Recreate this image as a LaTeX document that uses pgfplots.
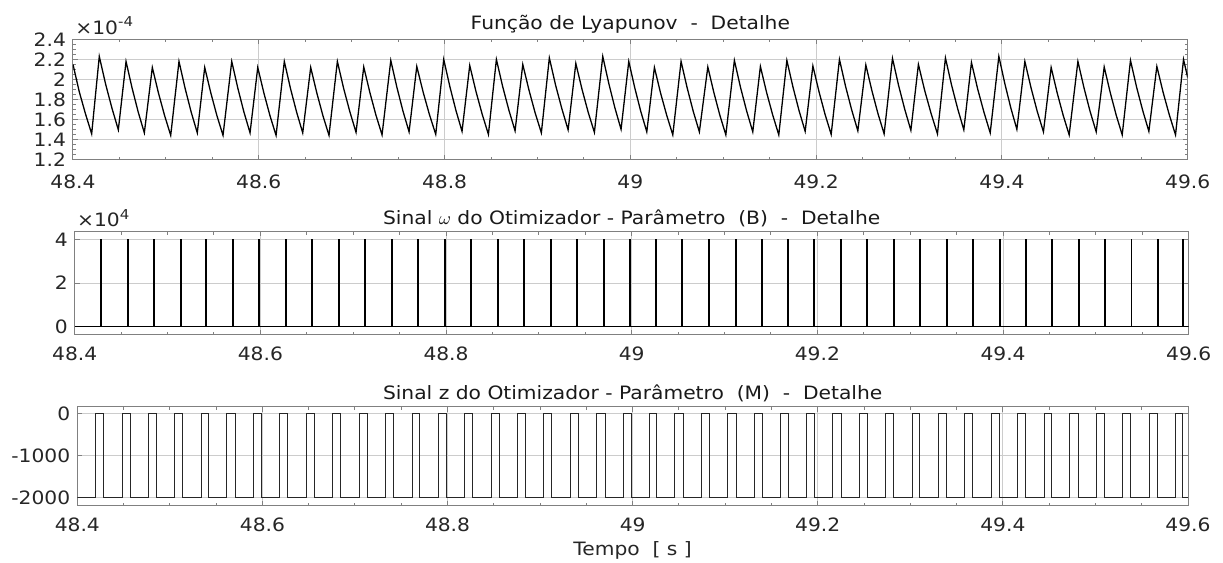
\documentclass[border=0pt]{standalone}
\usepackage{fontspec}
\setmainfont{DejaVu Sans}[FakeStretch=1.1]
\usepackage{pgfplots}
\pgfplotsset{compat=1.18}
\newcommand{\tf}{\fontsize{9.2}{11}\selectfont}
\pgfplotsset{
 common/.style={
  scale only axis, anchor=south west, clip mode=individual,
  xmin=48.4, xmax=49.6,
  xtick={48.4,48.6,48.8,49,49.2,49.4,49.6},
  xticklabels={48.4,48.6,48.8,49,49.2,49.4,49.6},
  minor x tick num=3,
  xmajorgrids, ymajorgrids,
  major grid style={black!20, line width=0.5pt},
  axis line style={black!50, line width=0.5pt},
  tick style={black!50, line width=0.5pt},
  major tick length=2.4pt, minor tick length=1.6pt,
  tick align=inside, xtick pos=both, ytick pos=both,
  xticklabel pos=bottom, yticklabel pos=left,
  tick label style={font=\tf, text=black!85},
  title style={font=\tf, text=black!90, at={(0.5,1)}, anchor=base},
  label style={font=\tf, text=black!85},
 }
}
\begin{document}
\begin{tikzpicture}
\path[use as bounding box] (0,0) rectangle (611.5pt,281.5pt);
% ---------------- Lyapunov ----------------
\begin{axis}[common,
  at={(36.5pt,201.5pt)}, width=557.35pt, height=60.35pt,
  ymin=1.2, ymax=2.4,
  ytick={1.2,1.4,1.6,1.8,2,2.2,2.4},
  yticklabels={1.2,1.4,1.6,1.8,2,2.2,2.4},
  minor y tick num=3,
  xticklabel style={yshift=-4pt},
  title style={yshift=-1pt},
  title={Função de Lyapunov\ \ -\ \ Detalhe}]
\addplot[black, line width=0.65pt] coordinates {
(48.4000,2.150) (48.4067,1.880) (48.4134,1.660) (48.4201,1.460)
(48.4283,2.230) (48.4351,1.955) (48.4420,1.713) (48.4488,1.500)
(48.4571,2.180) (48.4637,1.912) (48.4702,1.677) (48.4768,1.470)
(48.4854,2.120) (48.4920,1.866) (48.4986,1.642) (48.5052,1.445)
(48.5141,2.180) (48.5207,1.912) (48.5272,1.677) (48.5338,1.470)
(48.5418,2.120) (48.5484,1.866) (48.5549,1.642) (48.5615,1.445)
(48.5709,2.180) (48.5775,1.912) (48.5840,1.677) (48.5906,1.470)
(48.5989,2.120) (48.6055,1.866) (48.6120,1.642) (48.6186,1.445)
(48.6275,2.180) (48.6341,1.912) (48.6407,1.677) (48.6473,1.470)
(48.6559,2.120) (48.6625,1.866) (48.6690,1.642) (48.6756,1.445)
(48.6846,2.180) (48.6913,1.914) (48.6980,1.681) (48.7047,1.475)
(48.7130,2.125) (48.7196,1.871) (48.7261,1.647) (48.7327,1.450)
(48.7421,2.190) (48.7487,1.922) (48.7552,1.687) (48.7618,1.480)
(48.7701,2.130) (48.7769,1.876) (48.7837,1.652) (48.7905,1.455)
(48.7991,2.200) (48.8057,1.930) (48.8122,1.694) (48.8188,1.485)
(48.8271,2.140) (48.8338,1.882) (48.8405,1.655) (48.8472,1.455)
(48.8558,2.200) (48.8625,1.932) (48.8692,1.697) (48.8759,1.490)
(48.8842,2.150) (48.8909,1.894) (48.8975,1.669) (48.9042,1.470)
(48.9128,2.215) (48.9195,1.945) (48.9263,1.709) (48.9330,1.500)
(48.9413,2.160) (48.9480,1.902) (48.9546,1.675) (48.9613,1.475)
(48.9703,2.230) (48.9769,1.957) (48.9834,1.717) (48.9900,1.505)
(48.9983,2.180) (49.0048,1.916) (49.0112,1.684) (49.0177,1.480)
(49.0259,2.120) (49.0325,1.867) (49.0391,1.646) (49.0457,1.450)
(49.0546,2.180) (49.0612,1.916) (49.0677,1.684) (49.0743,1.480)
(49.0834,2.125) (49.0899,1.871) (49.0963,1.647) (49.1028,1.450)
(49.1120,2.190) (49.1186,1.922) (49.1252,1.687) (49.1318,1.480)
(49.1400,2.130) (49.1466,1.874) (49.1532,1.649) (49.1598,1.450)
(49.1685,2.190) (49.1751,1.924) (49.1816,1.691) (49.1882,1.485)
(49.1965,2.135) (49.2031,1.879) (49.2096,1.654) (49.2162,1.455)
(49.2251,2.200) (49.2317,1.932) (49.2383,1.697) (49.2449,1.490)
(49.2535,2.145) (49.2601,1.887) (49.2666,1.660) (49.2732,1.460)
(49.2822,2.210) (49.2888,1.940) (49.2954,1.704) (49.3020,1.495)
(49.3101,2.150) (49.3169,1.890) (49.3238,1.661) (49.3306,1.460)
(49.3392,2.215) (49.3458,1.945) (49.3524,1.709) (49.3590,1.500)
(49.3672,2.170) (49.3739,1.906) (49.3807,1.674) (49.3874,1.470)
(49.3967,2.230) (49.4032,1.957) (49.4096,1.717) (49.4161,1.505)
(49.4247,2.180) (49.4314,1.916) (49.4380,1.684) (49.4447,1.480)
(49.4530,2.120) (49.4595,1.867) (49.4659,1.646) (49.4724,1.450)
(49.4818,2.180) (49.4884,1.916) (49.4949,1.684) (49.5015,1.480)
(49.5101,2.125) (49.5166,1.871) (49.5230,1.647) (49.5295,1.450)
(49.5384,2.190) (49.5450,1.924) (49.5516,1.691) (49.5582,1.485)
(49.5668,2.130) (49.5735,1.874) (49.5802,1.649) (49.5869,1.450)
(49.5955,2.200) (49.6000,2.020)
};
\node[anchor=base west, inner sep=0pt, font=\tf, text=black!85, xshift=1pt, yshift=2.5pt]
  at (rel axis cs:0,1) {×10\raisebox{3.8pt}{\fontsize{6.8}{8}\selectfont -4}};
\end{axis}
% ---------------- omega ----------------
\begin{axis}[common,
  at={(37.35pt,114pt)}, width=557pt, height=51.75pt,
  ymin=-0.38, ymax=4.36,
  ytick={0,2,4}, yticklabels={0,2,4},
  xticklabel style={yshift=-2.5pt},
  title style={yshift=-2.4pt},
  title={Sinal $\omega$ do Otimizador - Parâmetro\ \ (B)\ \ -\ \ Detalhe}]
\addplot[black, line width=0.7pt, const plot] coordinates {
(48.4,0)
(48.4280,4) (48.4286,0) (48.4568,4) (48.4574,0) (48.4851,4) (48.4857,0)
(48.5138,4) (48.5144,0) (48.5415,4) (48.5421,0) (48.5706,4) (48.5712,0)
(48.5986,4) (48.5992,0) (48.6272,4) (48.6278,0) (48.6556,4) (48.6562,0)
(48.6843,4) (48.6849,0) (48.7127,4) (48.7133,0) (48.7418,4) (48.7424,0)
(48.7698,4) (48.7704,0) (48.7988,4) (48.7994,0) (48.8268,4) (48.8274,0)
(48.8555,4) (48.8561,0) (48.8839,4) (48.8845,0) (48.9125,4) (48.9131,0)
(48.9410,4) (48.9416,0) (48.9700,4) (48.9706,0) (48.9980,4) (48.9986,0)
(49.0256,4) (49.0262,0) (49.0543,4) (49.0549,0) (49.0831,4) (49.0837,0)
(49.1117,4) (49.1123,0) (49.1397,4) (49.1403,0) (49.1682,4) (49.1688,0)
(49.1962,4) (49.1968,0) (49.2248,4) (49.2254,0) (49.2532,4) (49.2538,0)
(49.2819,4) (49.2825,0) (49.3098,4) (49.3104,0) (49.3389,4) (49.3395,0)
(49.3669,4) (49.3675,0) (49.3964,4) (49.3970,0) (49.4244,4) (49.4250,0)
(49.4527,4) (49.4533,0) (49.4815,4) (49.4821,0) (49.5098,4) (49.5104,0)
(49.5381,4) (49.5387,0) (49.5665,4) (49.5671,0) (49.5940,4) (49.5946,0)
(49.6,0)
};
\node[anchor=base west, inner sep=0pt, font=\tf, text=black!85, xshift=1pt, yshift=2.4pt]
  at (rel axis cs:0,1) {×10\raisebox{3.8pt}{\fontsize{6.8}{8}\selectfont 4}};
\end{axis}
% ---------------- z ----------------
\begin{axis}[common,
  at={(38.65pt,28.65pt)}, width=555.35pt, height=49.5pt,
  ymin=-2190, ymax=167,
  ytick={-2000,-1000,0}, yticklabels={-2000,-1000,0},
  xticklabel style={yshift=-2.5pt},
  title style={yshift=-2.6pt},
  title={Sinal z do Otimizador - Parâmetro\ \ (M)\ \ -\ \ Detalhe},
  xlabel={Tempo\ \ [ s ]},
  xlabel style={at={(0.5,0)}, anchor=base, yshift=-25pt}]
\addplot[black!85, line width=0.5pt, const plot] coordinates {
(48.4,-2000)
(48.4201,0) (48.4283,-2000) (48.4488,0) (48.4571,-2000) (48.4768,0) (48.4854,-2000)
(48.5052,0) (48.5141,-2000) (48.5338,0) (48.5418,-2000) (48.5615,0) (48.5709,-2000)
(48.5906,0) (48.5989,-2000) (48.6186,0) (48.6275,-2000) (48.6473,0) (48.6559,-2000)
(48.6756,0) (48.6846,-2000) (48.7047,0) (48.7130,-2000) (48.7327,0) (48.7421,-2000)
(48.7618,0) (48.7701,-2000) (48.7905,0) (48.7991,-2000) (48.8188,0) (48.8271,-2000)
(48.8472,0) (48.8558,-2000) (48.8759,0) (48.8842,-2000) (48.9042,0) (48.9128,-2000)
(48.9330,0) (48.9413,-2000) (48.9613,0) (48.9703,-2000) (48.9900,0) (48.9983,-2000)
(49.0177,0) (49.0259,-2000) (49.0457,0) (49.0546,-2000) (49.0743,0) (49.0834,-2000)
(49.1028,0) (49.1120,-2000) (49.1318,0) (49.1400,-2000) (49.1598,0) (49.1685,-2000)
(49.1882,0) (49.1965,-2000) (49.2162,0) (49.2251,-2000) (49.2449,0) (49.2535,-2000)
(49.2732,0) (49.2822,-2000) (49.3020,0) (49.3101,-2000) (49.3306,0) (49.3392,-2000)
(49.3590,0) (49.3672,-2000) (49.3874,0) (49.3967,-2000) (49.4161,0) (49.4247,-2000)
(49.4447,0) (49.4530,-2000) (49.4724,0) (49.4818,-2000) (49.5015,0) (49.5101,-2000)
(49.5295,0) (49.5384,-2000) (49.5582,0) (49.5668,-2000) (49.5869,0) (49.5940,-2000)
(49.6,-2000)
};
\end{axis}
\end{tikzpicture}
\end{document}
